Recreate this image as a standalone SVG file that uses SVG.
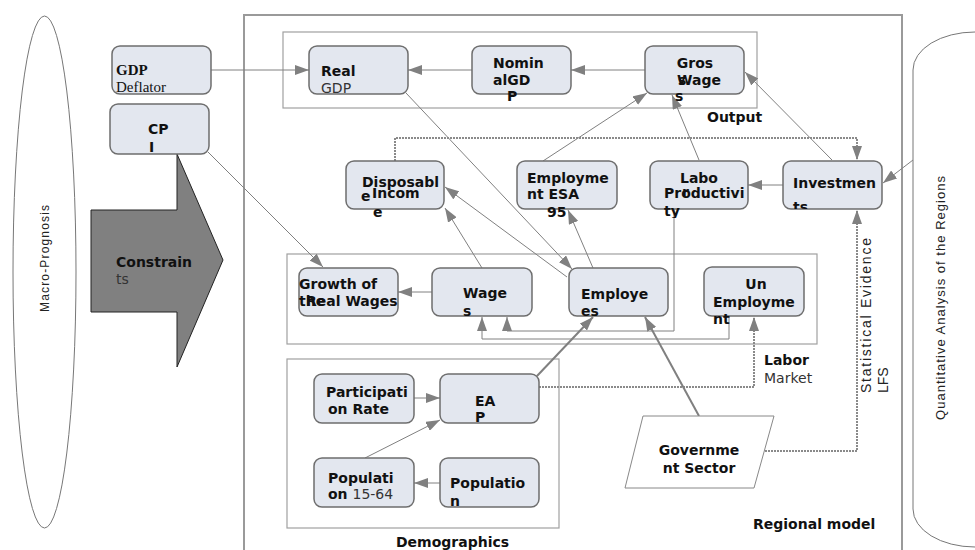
<svg xmlns="http://www.w3.org/2000/svg" width="975" height="550" viewBox="0 0 975 550">
<defs>
<marker id="ah" viewBox="0 0 14 10" refX="14" refY="5" markerWidth="14" markerHeight="10" markerUnits="userSpaceOnUse" orient="auto"><path d="M0,0 L14,5 L0,10 z" fill="#808080"/></marker>
<clipPath id="cInv"><rect x="783" y="150" width="100" height="59"/></clipPath>
<clipPath id="cPart"><rect x="314" y="374" width="100" height="49"/></clipPath>
<clipPath id="cEap"><rect x="440" y="374" width="100" height="49"/></clipPath>
<clipPath id="cPop"><rect x="440" y="458" width="100" height="49"/></clipPath>
<clipPath id="cLab"><rect x="640" y="150" width="120" height="68"/></clipPath>
</defs>
<style>
.box{fill:#e3e7ef;stroke:#6e6e6e;stroke-width:1.5}
.grp{fill:none;stroke:#a0a0a0;stroke-width:1.2}
.b{font-family:"DejaVu Sans",Verdana,sans-serif;font-weight:bold;font-size:14px;fill:#111}
.r{font-weight:normal;fill:#333}
.s{font-family:"Liberation Serif","Times New Roman",serif;font-size:15px;fill:#111}
.a{font-family:"Liberation Sans",Arial,sans-serif;fill:#222}
.c{fill:none;stroke:#808080;stroke-width:1}
.ct{stroke-width:2}
.cd{stroke:#8a8a8a;stroke-width:2;stroke-dasharray:2 1}
</style>
<rect width="975" height="550" fill="#fff"/>

<g id="macro">
<ellipse cx="44.5" cy="272" rx="31.5" ry="256" fill="none" stroke="#777" stroke-width="1"/>
<text class="a" font-size="12" text-anchor="middle" transform="translate(49,258.5) rotate(-90)" textLength="107" lengthAdjust="spacing">Macro-Prognosis</text>
</g>
<g id="quant">
<rect x="913" y="32" width="130" height="515" rx="62" ry="38" fill="none" stroke="#777" stroke-width="1"/>
<text class="a" font-size="13" text-anchor="middle" transform="translate(945,298) rotate(-90)" textLength="244" lengthAdjust="spacing">Quantitative Analysis of the Regions</text>
</g>
<g id="regional">
<rect x="244" y="15" width="658" height="545" fill="none" stroke="#9a9a9a" stroke-width="2"/>
<text class="b" x="753" y="529">Regional model</text>
</g>
<g id="output">
<rect class="grp" x="283" y="32" width="474" height="76"/>
<text class="b" x="707" y="122">Output</text>
</g>
<g id="labor">
<rect class="grp" x="287" y="254" width="530" height="90"/>
<text class="b" x="764" y="365">Labor</text>
<text class="b r" x="764" y="383">Market</text>
</g>
<g id="demographics">
<rect class="grp" x="287" y="359" width="272" height="169"/>
<text class="b" x="396" y="547">Demographics</text>
</g>

<g id="constraints">
<polygon points="177,154 223,260 177,367 177,312 91,312 91,210 177,210" fill="#808080" stroke="#222" stroke-width="1"/>
<text class="b" x="116" y="267">Constrain</text>
<text class="b r" x="116" y="284" fill="#222">ts</text>
</g>

<g id="connectors">
<path class="c" d="M211,70 H309" marker-end="url(#ah)"/>
<path class="c" d="M472,70 H408" marker-end="url(#ah)"/>
<path class="c" d="M645,70 H571" marker-end="url(#ah)"/>
<path class="c" d="M832,160 L745,72" marker-end="url(#ah)"/>
<path class="c" d="M699,160 L672,95" marker-end="url(#ah)"/>
<path class="c" d="M543,161 L647,93" marker-end="url(#ah)"/>
<path class="c" d="M406,93 L572,269" marker-end="url(#ah)"/>
<path class="c cd" d="M395,161 V138 H857 V160" marker-end="url(#ah)"/>
<path class="c" d="M913,160 L883,183" marker-end="url(#ah)"/>
<path class="c" d="M783,185 H748" marker-end="url(#ah)"/>
<path class="c" d="M567,277 L445,187" marker-end="url(#ah)"/>
<path class="c" d="M482,268 L445,208" marker-end="url(#ah)"/>
<path class="c" d="M593,268 L568,210" marker-end="url(#ah)"/>
<path class="c" d="M208,152 L323,267" marker-end="url(#ah)"/>
<path class="c" d="M432,292 H398" marker-end="url(#ah)"/>
<path class="c" d="M674,209 V331 H507 V317" marker-end="url(#ah)"/>
<path class="c" d="M729,316 V339 H482 V317" marker-end="url(#ah)"/>
<path class="c ct" d="M537,376 L593,317" marker-end="url(#ah)"/>
<path class="c cd" d="M539,387 H754 V317" marker-end="url(#ah)"/>
<path class="c ct" d="M699,416 L645,317" marker-end="url(#ah)"/>
<path class="c cd" d="M765,451 H857 V210" marker-end="url(#ah)"/>
<path class="c" d="M414,398 H440" marker-end="url(#ah)"/>
<path class="c" d="M365,458 L440,420" marker-end="url(#ah)"/>
<path class="c" d="M440,483 H414" marker-end="url(#ah)"/>
</g>

<g id="gdp-deflator">
<rect class="box" x="112" y="46" width="99" height="48" rx="8"/>
<text class="s" x="116" y="75" font-weight="bold">GDP</text>
<text class="s" x="116" y="92" fill="#333">Deflator</text>
</g>
<g id="cpi">
<rect class="box" x="110" y="104" width="99" height="50" rx="8" stroke-width="2.2"/>
<text class="b" x="148" y="134">CP</text>
<text class="b" x="149" y="152">I</text>
</g>
<g id="real-gdp">
<rect class="box" x="309" y="46" width="99" height="48" rx="8"/>
<text class="b" x="321" y="76">Real</text>
<text class="b r" x="321" y="93">GDP</text>
</g>
<g id="nominal-gdp">
<rect class="box" x="472" y="46" width="99" height="48" rx="8"/>
<text class="b" x="493" y="68">Nomin</text>
<text class="b" x="493" y="85">alGD</text>
<text class="b" x="507" y="101">P</text>
</g>
<g id="gross-wages">
<rect class="box" x="645" y="46" width="99" height="48" rx="8"/>
<text class="b" x="695" y="68" text-anchor="middle">Gros</text>
<text class="b" x="678" y="85">s</text>
<text class="b" x="677" y="85">Wage</text>
<text class="b" x="675" y="101">s</text>
</g>
<g id="disposable-income">
<rect class="box" x="346" y="161" width="98" height="48" rx="8"/>
<text class="b" x="362" y="187">Disposabl</text>
<text class="b" x="361" y="201">e</text>
<text class="b" x="372" y="198">Incom</text>
<text class="b" x="373" y="217">e</text>
</g>
<g id="employment-esa">
<rect class="box" x="517" y="161" width="100" height="48" rx="8"/>
<text class="b" x="527" y="183">Employme</text>
<text class="b" x="527" y="199">nt ESA</text>
<text class="b" x="547" y="217">95</text>
</g>
<g id="labour-productivity">
<rect class="box" x="650" y="161" width="98" height="48" rx="8"/>
<text class="b" x="699" y="183" text-anchor="middle">Labo</text>
<text class="b" x="682" y="197">r</text>
<text class="b" x="664" y="198">Productivi</text>
<text class="b" x="664" y="216" clip-path="url(#cLab)">ty</text>
</g>
<g id="investments">
<rect class="box" x="783" y="161" width="99" height="48" rx="8"/>
<text class="b" x="793" y="188">Investmen</text>
<text class="b" x="793" y="212" clip-path="url(#cInv)">ts</text>
</g>
<g id="growth-real-wages">
<rect class="box" x="299" y="268" width="99" height="48" rx="8"/>
<text class="b" x="299" y="289">Growth of</text>
<text class="b" x="299" y="306">the</text>
<text class="b" x="306" y="306">Real Wages</text>
</g>
<g id="wages">
<rect class="box" x="432" y="268" width="100" height="48" rx="8"/>
<text class="b" x="463" y="298">Wage</text>
<text class="b" x="463" y="316">s</text>
</g>
<g id="employees">
<rect class="box" x="569" y="268" width="99" height="48" rx="8"/>
<text class="b" x="581" y="299">Employe</text>
<text class="b" x="581" y="316">es</text>
</g>
<g id="unemployment">
<rect class="box" x="704" y="267" width="100" height="49" rx="8"/>
<text class="b" x="756" y="289" text-anchor="middle">Un</text>
<text class="b" x="713" y="307">Employme</text>
<text class="b" x="713" y="324">nt</text>
</g>
<g id="participation-rate">
<rect class="box" x="314" y="374" width="100" height="49" rx="8"/>
<text class="b" x="326" y="397">Participati</text>
<text class="b" x="328" y="414" clip-path="url(#cPart)">on Rate</text>
</g>
<g id="eap">
<rect class="box" x="440" y="374" width="99" height="49" rx="8"/>
<text class="b" x="475" y="406">EA</text>
<text class="b" x="475" y="422" clip-path="url(#cEap)">P</text>
</g>
<g id="population-15-64">
<rect class="box" x="314" y="458" width="100" height="49" rx="8"/>
<text class="b" x="328" y="483">Populati</text>
<text class="b" x="328" y="499">on <tspan class="r">15-64</tspan></text>
</g>
<g id="population">
<rect class="box" x="440" y="458" width="99" height="49" rx="8"/>
<text class="b" x="450" y="488">Populatio</text>
<text class="b" x="450" y="506" clip-path="url(#cPop)">n</text>
</g>
<g id="government-sector">
<polygon points="643,416 774,416 754,488 625,488" fill="#fff" stroke="#888" stroke-width="1"/>
<text class="b" x="699" y="455" text-anchor="middle">Governme</text>
<text class="b" x="699" y="473" text-anchor="middle">nt Sector</text>
</g>
<g id="statistical-evidence">
<text class="a" font-size="14" transform="translate(871,393) rotate(-90)" textLength="155" lengthAdjust="spacing">Statistical Evidence</text>
<text class="a" font-size="14" transform="translate(888,393) rotate(-90)">LFS</text>
</g>
</svg>
